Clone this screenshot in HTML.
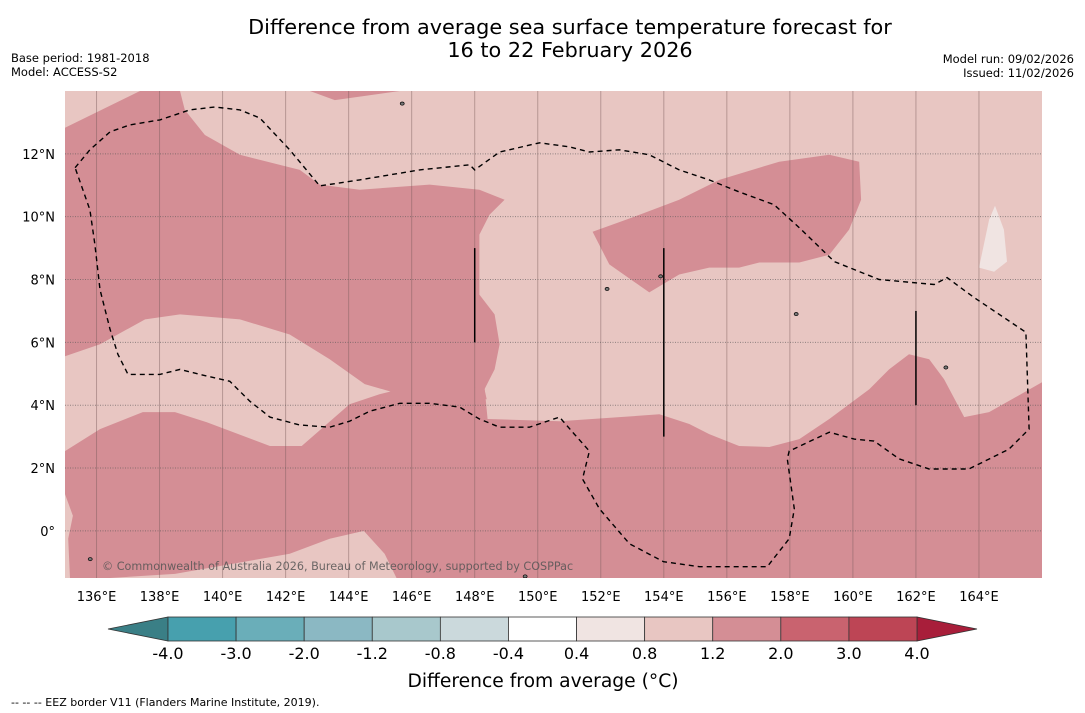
<!DOCTYPE html>
<html><head><meta charset="utf-8"><style>
body{margin:0;background:#fff;width:1085px;height:713px;overflow:hidden;font-family:"Liberation Sans","DejaVu Sans",sans-serif}
svg{position:absolute;left:0;top:0}
</style></head><body>
<svg id="chart" width="1085" height="713" xmlns="http://www.w3.org/2000/svg">
<text x="570" y="34" text-anchor="middle" font-size="20.8" font-family="DejaVu Sans, sans-serif">Difference from average sea surface temperature forecast for</text>
<text x="570" y="57" text-anchor="middle" font-size="20.8" font-family="DejaVu Sans, sans-serif">16 to 22 February 2026</text>
<text x="11" y="62" font-size="11.5" font-family="DejaVu Sans, sans-serif">Base period: 1981-2018</text>
<text x="11" y="76" font-size="11.5" font-family="DejaVu Sans, sans-serif">Model: ACCESS-S2</text>
<text x="1074" y="63" text-anchor="end" font-size="11.5" font-family="DejaVu Sans, sans-serif">Model run: 09/02/2026</text>
<text x="1074" y="77" text-anchor="end" font-size="11.5" font-family="DejaVu Sans, sans-serif">Issued: 11/02/2026</text>
<g id="map"></g>
<g id="axes"></g>
<g id="cbar"></g>
<text x="543" y="687" text-anchor="middle" font-size="18.7" font-family="DejaVu Sans, sans-serif">Difference from average (°C)</text>
<text x="11" y="706" font-size="11" font-family="DejaVu Sans, sans-serif">--  --  -- EEZ border V11 (Flanders Marine Institute, 2019).</text>
</svg>
<script>
const lonTicks=[136,138,140,142,144,146,148,150,152,154,156,158,160,162,164];
const latTicks=[0,2,4,6,8,10,12];
const cbarBounds=[-4.0,-3.0,-2.0,-1.2,-0.8,-0.4,0.4,0.8,1.2,2.0,3.0,4.0];
const cbarColors=["#47a0ae","#6aaeb9","#8bb8c3","#a8c8cc","#cbd9dc","#ffffff","#f0e4e2","#e8c6c2","#d48e95","#c9636f","#bd4555"];
const regionUpperLeft=[[135,12.83],[135.63,13.14],[137.38,14],[138.65,14],[138.8,13.4],[139.44,12.6],[140.55,11.97],[142.45,11.49],[143.08,11.02],[144.35,10.86],[146.57,11.02],[148.15,10.86],[148.95,10.54],[148.47,10.06],[148.15,9.43],[148.15,7.52],[148.63,6.89],[148.79,5.94],[148.63,5.14],[148.31,4.51],[148.38,4.19],[145.62,4.35],[144.51,4.67],[143.4,5.46],[142.13,6.25],[140.55,6.73],[138.65,6.89],[137.54,6.73],[136.11,5.94],[135,5.56]];
const regionTopBlob=[[142.77,14],[145.62,14],[143.56,13.71]];
const regionSouth=[[135,2.54],[136.11,3.24],[137.47,3.78],[138.49,3.78],[139.5,3.46],[141.5,2.7],[142.51,2.7],[144.03,4.03],[144.98,4.35],[145.62,4.51],[148.31,4.57],[148.41,3.56],[150.69,3.49],[152.59,3.62],[153.86,3.71],[154.81,3.4],[155.44,3.08],[156.39,2.7],[157.35,2.67],[158.3,2.92],[159.25,3.56],[160.52,4.51],[161.15,5.14],[161.78,5.62],[162.42,5.46],[162.89,4.83],[163.53,3.62],[164.32,3.78],[166,4.73],[166,-1.5],[145.52,-1.5],[145.14,-0.73],[144.48,0],[143.4,-0.25],[142.13,-0.73],[138.49,-1.37],[136.43,-1.5],[135.16,-1.5],[135.1,-0.25],[135.25,0.48],[135,1.17]];
const regionEast=[[151.74,9.52],[153.23,10.06],[154.49,10.54],[155.76,11.17],[157.66,11.75],[159.25,11.97],[160.2,11.75],[160.26,10.54],[159.88,9.59],[159.25,8.79],[158.3,8.54],[157.03,8.54],[156.39,8.38],[155.44,8.38],[154.49,8.16],[153.54,7.59],[152.27,8.48]];
const regionWhite=[[164,8.38],[164.32,9.9],[164.51,10.35],[164.79,9.59],[164.89,8.57],[164.48,8.25]];
const eez=[[135.32,11.56],[135.79,12.13],[136.43,12.7],[137.06,12.92],[138.01,13.08],[138.96,13.4],[139.75,13.49],[140.55,13.4],[141.18,13.14],[142.13,12.13],[143.08,10.98],[144.35,11.17],[146.25,11.49],[147.84,11.65],[148,11.49],[148.79,12.06],[150.06,12.35],[151.01,12.22],[151.64,12.06],[152.59,12.13],[153.54,11.97],[154.49,11.49],[155.44,11.17],[156.39,10.79],[157.5,10.38],[158.3,9.65],[159.41,8.57],[160.83,8],[162.58,7.84],[162.99,8.06],[163.84,7.43],[165.49,6.32],[165.59,3.24],[164.95,2.6],[163.68,1.97],[162.42,1.97],[161.47,2.29],[160.67,2.86],[160.04,2.92],[159.25,3.14],[157.98,2.54],[157.92,2.29],[158.14,0.7],[157.98,-0.25],[157.28,-1.14],[155.13,-1.14],[153.99,-0.98],[152.91,-0.41],[151.96,0.7],[151.42,1.65],[151.64,2.54],[151.16,3.08],[150.69,3.62],[149.74,3.3],[148.79,3.3],[148.15,3.56],[147.52,3.94],[146.57,4.06],[145.62,4.06],[144.67,3.81],[144.03,3.49],[143.4,3.3],[142.45,3.37],[141.5,3.62],[140.86,4.13],[140.23,4.76],[139.28,4.98],[138.65,5.14],[138.01,4.98],[137,4.98],[136.68,5.62],[136.43,6.41],[136.11,7.68],[135.95,9.11],[135.79,10.22],[135.32,11.56]];
const boundaryLines=[[148,6,9],[154,3,9],[162,4,7]];
const islands=[[145.7,13.6],[152.2,7.7],[153.9,8.1],[158.2,6.9],[162.95,5.2],[135.8,-0.9],[149.6,-1.45]];

const NS="http://www.w3.org/2000/svg";
const L=65,R=1042,T=91,B=578,lon0=135,lon1=166,lat0=-1.5,lat1=14;
const X=lon=>L+(lon-lon0)/(lon1-lon0)*(R-L);
const Y=lat=>T+(lat1-lat)/(lat1-lat0)*(B-T);
function mk(tag,attrs,parent){const e=document.createElementNS(NS,tag);for(const k in attrs)e.setAttribute(k,attrs[k]);parent.appendChild(e);return e;}
const map=document.getElementById('map');
const defs=mk('defs',{},map);
const cp=mk('clipPath',{id:'clip'},defs);
mk('rect',{x:L,y:T,width:R-L,height:B-T},cp);
const g=mk('g',{'clip-path':'url(#clip)'},map);
const bg=mk('rect',{x:L,y:T,width:R-L,height:B-T,fill:cbarColors[7]},g);


const pts=a=>a.map(p=>X(p[0]).toFixed(1)+','+Y(p[1]).toFixed(1)).join(' ');
[[regionUpperLeft,'anomaly-region-northwest'],[regionTopBlob,'anomaly-region-north'],[regionSouth,'anomaly-region-south'],[regionEast,'anomaly-region-east']].forEach(([r,n])=>{
 const p=mk('polygon',{points:pts(r),fill:cbarColors[8]},g);
 
 
});
const w=mk('polygon',{points:pts(regionWhite),fill:cbarColors[6]},g);


lonTicks.forEach(lo=>{
 const l=mk('line',{x1:X(lo),x2:X(lo),y1:T,y2:B,stroke:'#7a5a5a','stroke-opacity':0.45,'stroke-width':1},g);
 
 
});
latTicks.forEach(la=>{
 const l=mk('line',{x1:L,x2:R,y1:Y(la),y2:Y(la),stroke:'#555','stroke-opacity':0.6,'stroke-width':1,'stroke-dasharray':'1,1.5'},g);
 
 
});
const ez=mk('polyline',{points:pts(eez),fill:'none',stroke:'#000','stroke-width':1.4,'stroke-dasharray':'5,4'},g);


boundaryLines.forEach(b=>{
 const l=mk('line',{x1:X(b[0]),x2:X(b[0]),y1:Y(b[2]),y2:Y(b[1]),stroke:'#000','stroke-width':1.5},g);
 
 
});
islands.forEach(p=>{
 const c=mk('ellipse',{cx:X(p[0]),cy:Y(p[1]),rx:2,ry:1.6,fill:'#777',stroke:'#000','stroke-width':0.7},g);
 
 
});
const cr=mk('text',{x:102,y:570,'font-size':11.2,fill:'#555','fill-opacity':0.85,'font-family':'DejaVu Sans, sans-serif'},g);
cr.textContent='© Commonwealth of Australia 2026, Bureau of Meteorology, supported by COSPPac';


const ax=document.getElementById('axes');
lonTicks.forEach(lo=>{
 const t=mk('text',{x:X(lo),y:601,'text-anchor':'middle','font-size':13,'font-family':'DejaVu Sans, sans-serif'},ax);
 t.textContent=lo+'°E';
 
 
});
latTicks.forEach(la=>{
 const t=mk('text',{x:55,y:Y(la)+5,'text-anchor':'end','font-size':13,'font-family':'DejaVu Sans, sans-serif'},ax);
 t.textContent=la===0?'0°':la+'°N';
 
 
});
const cb=document.getElementById('cbar');
const cL=168,cR=917,cT=617,cB=641,n=cbarColors.length,sw=(cR-cL)/n;
const le=mk('polygon',{points:`108,629 ${cL},${cT} ${cL},${cB}`,fill:'#3a7f86',stroke:'#333','stroke-width':0.8},cb);


const re=mk('polygon',{points:`977,629 ${cR},${cT} ${cR},${cB}`,fill:'#a81e3a',stroke:'#333','stroke-width':0.8},cb);


cbarColors.forEach((c,i)=>{
 const r=mk('rect',{x:cL+i*sw,y:cT,width:sw,height:cB-cT,fill:c,stroke:'#333','stroke-width':0.8},cb);
 
 
});
cbarBounds.forEach((v,i)=>{
 const t=mk('text',{x:cL+i*sw,y:659,'text-anchor':'middle','font-size':16,'font-family':'DejaVu Sans, sans-serif'},cb);
 t.textContent=v.toFixed(1);
 
 
});
</script>
</body></html>
